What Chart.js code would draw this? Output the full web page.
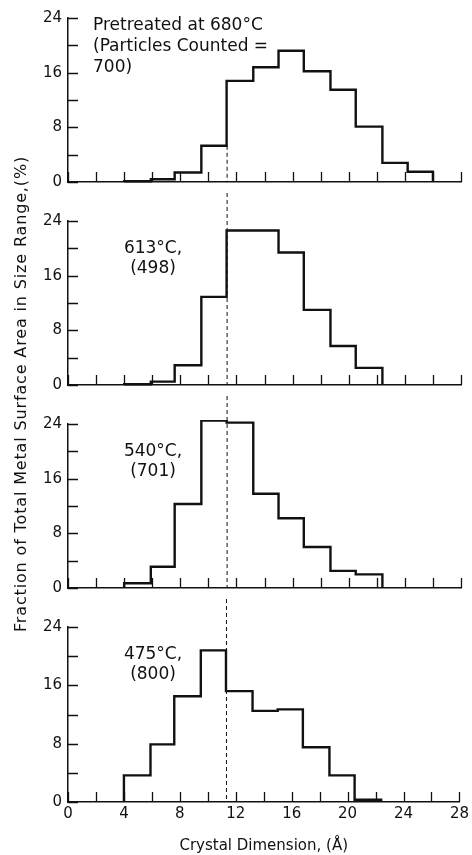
<!DOCTYPE html>
<html>
<head>
<meta charset="utf-8">
<script src="https://cdn.jsdelivr.net/npm/chart.js@4.4.0/dist/chart.umd.min.js"></script>
<style>
  body { margin: 0; background: #fff; width: 472px; height: 855px; position: relative; overflow: hidden; }
  canvas { position: absolute; left: 0; }
  #ytitle {
    position: absolute; left: -279px; top: 385px; width: 600px; height: 18px;
    text-align: center; font: 16px "DejaVu Sans", sans-serif; color: #111;
    letter-spacing: 0.85px;
    transform: rotate(-90deg); white-space: nowrap; line-height: 18px;
  }
</style>
</head>
<body>
<canvas id="c0" width="472" height="197" style="top:0px"></canvas>
<canvas id="c1" width="472" height="207" style="top:193px"></canvas>
<canvas id="c2" width="472" height="207" style="top:396px"></canvas>
<canvas id="c3" width="472" height="256" style="top:599px"></canvas>
<div id="ytitle">Fraction of Total Metal Surface Area in Size Range,(%)</div>
<script>
// bin edges of the crystal dimension classes (Å)
var binEdges = [4, 5.9, 7.6, 9.5, 11.3, 13.2, 15.0, 16.8, 18.7, 20.5, 22.4, 24.2, 26.0];

// % of metal surface area in each bin
var pct680 = [0.1, 0.4, 1.4, 5.3, 14.8, 16.8, 19.2, 16.2, 13.5, 8.1, 2.8, 1.5];
var pct613 = [0.1, 0.5, 2.9, 12.9, 22.6, 22.6, 19.4, 11.0, 5.7, 2.5, 0, 0];
var pct540 = [0.7, 3.1, 12.3, 24.5, 24.2, 13.8, 10.2, 6.0, 2.5, 2.0, 0, 0];
var pct475 = [3.65, 7.9, 14.5, 20.8, 15.2, 12.5, 12.7, 7.5, 3.65, 0.3, 0, 0];

var panelNotes = [
  ["Pretreated at 680°C", "(Particles Counted =", "700)"],
  ["613°C,", "(498)"],
  ["540°C,", "(701)"],
  ["475°C,", "(800)"]
];

var xTicks = [0, 4, 8, 12, 16, 20, 24, 28];
var yTicks = [0, 8, 16, 24];
var refDim = 11.3;   // dashed line

var ink = '#111';
var tickFont = { family: 'DejaVu Sans', size: 15 };

function stepPoints(vals) {
  var last = vals.length - 1;
  while (last > 0 && vals[last] === 0) last--;
  var pts = [{ x: binEdges[0], y: 0 }];
  for (var i = 0; i <= last; i++) pts.push({ x: binEdges[i], y: vals[i] });
  pts.push({ x: binEdges[last + 1], y: 0 });
  return pts;
}

var decor = {
  id: 'decor',
  beforeDatasetsDraw: function(chart, args, opts) {
    var ctx = chart.ctx, xs = chart.scales.x, ys = chart.scales.y, a = chart.chartArea;
    var dx = xs.getPixelForValue(refDim);
    var top = opts.dashFrom != null ? ys.getPixelForValue(opts.dashFrom) : 0;
    ctx.save();
    ctx.strokeStyle = ink;
    ctx.lineWidth = 1;
    ctx.setLineDash([4, 3]);
    ctx.beginPath();
    ctx.moveTo(dx + 0.5, top);
    ctx.lineTo(dx + 0.5, a.bottom);
    ctx.stroke();
    ctx.restore();
  },
  afterDraw: function(chart, args, opts) {
    var ctx = chart.ctx, xs = chart.scales.x, ys = chart.scales.y, a = chart.chartArea;
    ctx.save();
    ctx.strokeStyle = ink;
    ctx.lineWidth = 1.3;
    ctx.beginPath();
    // inward ticks
    for (var v = 0; v <= 28; v += 2) {
      var px = Math.round(xs.getPixelForValue(v)) + 0.5;
      ctx.moveTo(px, a.bottom);
      ctx.lineTo(px, a.bottom - 10);
    }
    for (var w = 0; w <= 24; w += 4) {
      var py = Math.round(ys.getPixelForValue(w)) + 0.5;
      ctx.moveTo(a.left, py);
      ctx.lineTo(a.left + 10, py);
    }
    ctx.stroke();
    // panel note
    ctx.fillStyle = ink;
    ctx.font = '17px "DejaVu Sans"';
    ctx.textAlign = opts.align;
    ctx.textBaseline = 'alphabetic';
    opts.lines.forEach(function(t, i) {
      ctx.fillText(t, opts.tx, a.top + opts.ty + i * opts.lh);
    });
    ctx.restore();
  }
};

function makePanel(id, vals, k, last) {
  var notes = panelNotes[k];
  new Chart(document.getElementById(id), {
    type: 'line',
    data: {
      datasets: [{
        data: stepPoints(vals),
        stepped: 'before',
        borderColor: ink,
        borderWidth: 2.4,
        pointRadius: 0,
        fill: false,
        clip: 4
      }]
    },
    options: {
      responsive: false,
      animation: false,
      events: [],
      layout: { padding: { top: k === 0 ? 18 : 28, bottom: last ? 0 : 4, left: 0, right: 11 } },
      plugins: {
        legend: { display: false },
        tooltip: { enabled: false },
        decor: {
          lines: notes,
          align: k === 0 ? 'left' : 'center',
          tx: k === 0 ? 93 : 153,
          ty: k === 0 ? 12 : 32,
          lh: k === 0 ? 21 : 20,
          dashFrom: k === 0 ? 5.3 : null
        }
      },
      scales: {
        x: {
          type: 'linear',
          min: 0, max: 28,
          afterBuildTicks: function(s) { s.ticks = xTicks.map(function(v) { return { value: v }; }); },
          afterFit: function(s) { s.height = last ? 53 : 0; },
          grid: { display: false, drawTicks: false },
          border: { display: true, color: ink, width: 1.5 },
          ticks: { display: last, color: ink, font: tickFont, padding: 3, maxRotation: 0 },
          title: {
            display: last,
            text: 'Crystal Dimension, (Å)',
            color: ink,
            font: { family: 'DejaVu Sans', size: 15 },
            padding: { top: 0, bottom: 0 }
          }
        },
        y: {
          min: 0, max: 24,
          afterBuildTicks: function(s) { s.ticks = yTicks.map(function(v) { return { value: v }; }); },
          afterFit: function(s) { s.width = 68; },
          grid: { display: false, drawTicks: false },
          border: { display: true, color: ink, width: 1.5 },
          ticks: { color: ink, font: tickFont, padding: 6 }
        }
      }
    },
    plugins: [decor]
  });
}

makePanel('c0', pct680, 0, false);
makePanel('c1', pct613, 1, false);
makePanel('c2', pct540, 2, false);
makePanel('c3', pct475, 3, true);
</script>
</body>
</html>
